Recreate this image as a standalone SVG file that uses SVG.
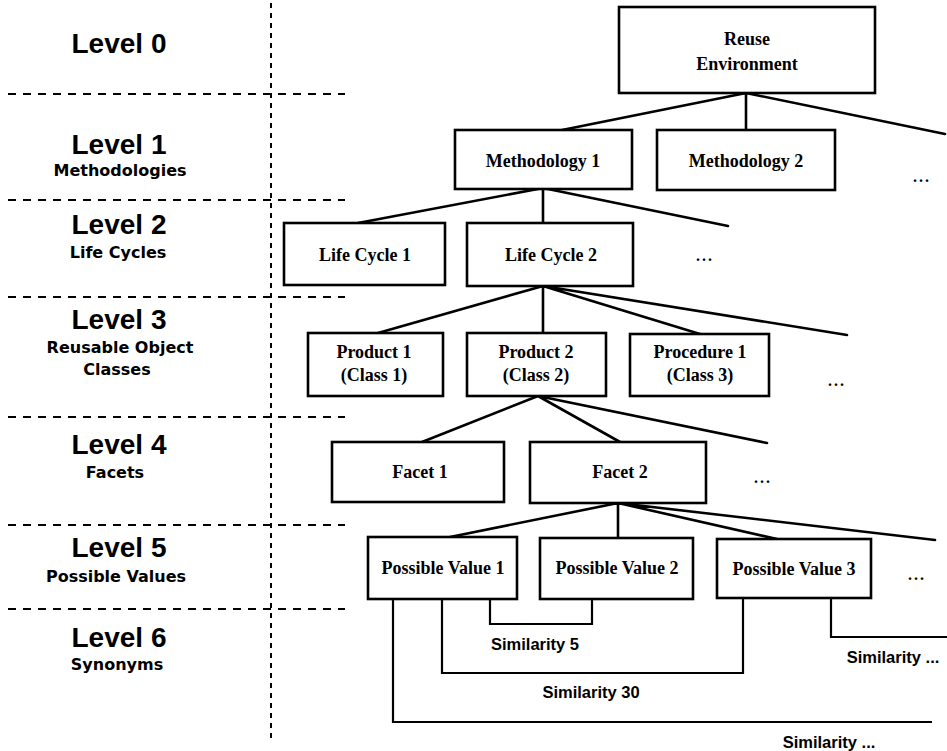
<svg xmlns="http://www.w3.org/2000/svg" width="947" height="751" viewBox="0 0 947 751">
<style>
.box{fill:#fff;stroke:#000;stroke-width:2.6}
.conn{stroke:#000;stroke-width:2.6;fill:none;stroke-linecap:round}
.br{stroke:#000;stroke-width:2.2;fill:none}
.hd{stroke:#000;stroke-width:2;stroke-dasharray:8 7}
.vd{stroke:#000;stroke-width:2;stroke-dasharray:5 5}
.lvl{font-family:"Liberation Sans",Arial,sans-serif;font-weight:bold;font-size:28px;text-anchor:middle}
.sub{font-family:"DejaVu Sans",sans-serif;font-weight:bold;font-size:16px;text-anchor:middle}
.nt{font-family:"Liberation Serif","Times New Roman",serif;font-weight:bold;font-size:18px;text-anchor:middle}
.sim{font-family:"Liberation Sans",Arial,sans-serif;font-weight:bold;font-size:16.5px;text-anchor:middle}
.dots{font-family:"Liberation Serif",serif;font-weight:bold;font-size:16px;text-anchor:middle;letter-spacing:2px}
</style>
<rect width="947" height="751" fill="#fff"/>
<g id="grid">
<line class="vd" x1="271" y1="3" x2="271" y2="742"/>
<line class="hd" x1="8" y1="94" x2="345" y2="94"/>
<line class="hd" x1="8" y1="200" x2="345" y2="200"/>
<line class="hd" x1="8" y1="297" x2="345" y2="297"/>
<line class="hd" x1="8" y1="417" x2="345" y2="417"/>
<line class="hd" x1="8" y1="525" x2="345" y2="525"/>
<line class="hd" x1="8" y1="609" x2="345" y2="609"/>
</g>
<g id="levels">
<text class="lvl" x="119" y="53">Level 0</text>
<text class="lvl" x="119" y="154">Level 1</text>
<text class="sub" x="120" y="176">Methodologies</text>
<text class="lvl" x="119" y="234">Level 2</text>
<text class="sub" x="118" y="258">Life Cycles</text>
<text class="lvl" x="119" y="329">Level 3</text>
<text class="sub" x="120" y="353">Reusable Object</text>
<text class="sub" x="117" y="375">Classes</text>
<text class="lvl" x="119" y="454">Level 4</text>
<text class="sub" x="115" y="478">Facets</text>
<text class="lvl" x="119" y="557">Level 5</text>
<text class="sub" x="116" y="582">Possible Values</text>
<text class="lvl" x="119" y="647">Level 6</text>
<text class="sub" x="117" y="670">Synonyms</text>
</g>
<g id="connectors">
<path class="conn" d="M746,93 L562,130 M746,93 L746,130 M746,93 L945,134"/>
<path class="conn" d="M543,188 L358,223 M543,188 L543,223 M543,188 L728,226"/>
<path class="conn" d="M543,286 L378,333 M543,286 L543,333 M543,286 L700,334 M543,286 L847,335"/>
<path class="conn" d="M538,396 L422,442 M538,396 L620,442 M538,396 L767,443"/>
<path class="conn" d="M618,503 L450,537 M618,503 L618,538 M618,503 L777,539 M618,503 L935,540"/>
<path class="br" d="M490,599 V624 H592 V599"/>
<path class="br" d="M442,599 V673 H743 V598"/>
<path class="br" d="M393,599 V722 H932"/>
<path class="br" d="M831,598 V637 H947"/>
</g>
<g id="n-reuse"><rect class="box" x="619" y="7" width="256" height="86"/><text class="nt" x="747" y="45">Reuse</text><text class="nt" x="747" y="70">Environment</text></g>
<g id="n-meth1"><rect class="box" x="455" y="130" width="177" height="59"/><text class="nt" x="543" y="167">Methodology 1</text></g>
<g id="n-meth2"><rect class="box" x="657" y="130" width="178" height="60"/><text class="nt" x="746" y="167">Methodology 2</text></g>
<g id="n-meth-more"><text class="dots" x="922" y="182">...</text></g>
<g id="n-lc1"><rect class="box" x="284" y="223" width="161" height="62"/><text class="nt" x="365" y="261">Life Cycle 1</text></g>
<g id="n-lc2"><rect class="box" x="467" y="223" width="166" height="63"/><text class="nt" x="551" y="261">Life Cycle 2</text></g>
<g id="n-lc-more"><text class="dots" x="705" y="261">...</text></g>
<g id="n-p1"><rect class="box" x="308" y="333" width="135" height="63"/><text class="nt" x="374" y="358">Product 1</text><text class="nt" x="374" y="381">(Class 1)</text></g>
<g id="n-p2"><rect class="box" x="467" y="333" width="139" height="63"/><text class="nt" x="536" y="358">Product 2</text><text class="nt" x="536" y="381">(Class 2)</text></g>
<g id="n-proc1"><rect class="box" x="630" y="334" width="139" height="62"/><text class="nt" x="700" y="358">Procedure 1</text><text class="nt" x="700" y="381">(Class 3)</text></g>
<g id="n-class-more"><text class="dots" x="837" y="386">...</text></g>
<g id="n-f1"><rect class="box" x="332" y="442" width="172" height="60"/><text class="nt" x="420" y="478">Facet 1</text></g>
<g id="n-f2"><rect class="box" x="530" y="442" width="176" height="61"/><text class="nt" x="620" y="478">Facet 2</text></g>
<g id="n-f-more"><text class="dots" x="763" y="483">...</text></g>
<g id="n-pv1"><rect class="box" x="368" y="537" width="149" height="62"/><text class="nt" x="443" y="574">Possible Value 1</text></g>
<g id="n-pv2"><rect class="box" x="540" y="538" width="153" height="61"/><text class="nt" x="617" y="574">Possible Value 2</text></g>
<g id="n-pv3"><rect class="box" x="717" y="539" width="154" height="59"/><text class="nt" x="794" y="575">Possible Value 3</text></g>
<g id="n-pv-more"><text class="dots" x="917" y="580">...</text></g>
<g id="labels">
<text class="sim" x="535" y="650">Similarity 5</text>
<text class="sim" x="591" y="698">Similarity 30</text>
<text class="sim" x="893" y="663">Similarity ...</text>
<text class="sim" x="829" y="748">Similarity ...</text>
</g>
</svg>
